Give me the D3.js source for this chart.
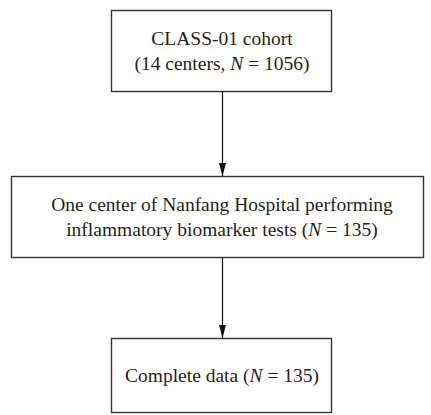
<!DOCTYPE html>
<html>
<head>
<meta charset="utf-8">
<script src="https://cdn.jsdelivr.net/npm/d3@7"></script>
<style>
  html, body { margin: 0; padding: 0; background: #fff; }
  svg { display: block; }
</style>
</head>
<body>
<div id="chart"></div>
<script>
var
  WIDTH = 431,
  HEIGHT = 415,
  FONT = "'Liberation Serif', 'DejaVu Serif', serif",
  FONT_SIZE = 19.5,
  LINE_HEIGHT = 25,
  STROKE = "#333";

// flow steps, top to bottom; each line is a list of [text, italic] pieces
var stepLines = [
  [
    [["CLASS-01 cohort", false]],
    [["(14 centers, ", false], ["N", true], [" = 1056)", false]]
  ],
  [
    [["One center of Nanfang Hospital performing", false]],
    [["inflammatory biomarker tests (", false], ["N", true], [" = 135)", false]]
  ],
  [
    [["Complete data (", false], ["N", true], [" = 135)", false]]
  ]
];
var stepIndex = [0, 1, 2];

// box edges in picture pixels
var boxLefts = [111.5, 11.5, 111.5];
var boxRights = [331.5, 423.5, 331.5];
var boxTops = [10.5, 176.5, 338.5];
var boxBottoms = [91.5, 257.5, 412.5];
var centerX = 222;

var svg = d3.select("#chart").append("svg")
  .attr("width", WIDTH)
  .attr("height", HEIGHT);

svg.append("defs").append("marker")
  .attr("id", "arrow")
  .attr("viewBox", "0 0 10 10")
  .attr("preserveAspectRatio", "none")
  .attr("refX", 10)
  .attr("refY", 5)
  .attr("markerWidth", 13)
  .attr("markerHeight", 7)
  .attr("markerUnits", "userSpaceOnUse")
  .attr("orient", "auto")
  .append("path")
  .attr("d", "M0,0 L10,5 L0,10 Z")
  .attr("fill", "#111");

var boxes = svg.selectAll("g.step")
  .data(stepIndex)
  .enter().append("g")
  .attr("class", "step");

boxes.append("rect")
  .attr("x", function(i){ return boxLefts[i]; })
  .attr("y", function(i){ return boxTops[i]; })
  .attr("width", function(i){ return boxRights[i] - boxLefts[i]; })
  .attr("height", function(i){ return boxBottoms[i] - boxTops[i]; })
  .attr("fill", "none")
  .attr("stroke", STROKE)
  .attr("stroke-width", 1.4);

boxes.each(function(i){
  var g = d3.select(this),
    lines = stepLines[i],
    mid = (boxTops[i] + boxBottoms[i]) / 2,
    first = mid - (lines.length - 1) * LINE_HEIGHT / 2;

  lines.forEach(function(pieces, k){
    var text = g.append("text")
      .attr("x", centerX)
      .attr("y", first + k * LINE_HEIGHT)
      .attr("dy", "0.35em")
      .attr("text-anchor", "middle")
      .attr("font-family", FONT)
      .attr("font-size", FONT_SIZE)
      .attr("fill", "#231f20");
    pieces.forEach(function(p){
      text.append("tspan")
        .attr("font-style", p[1] ? "italic" : "normal")
        .text(p[0]);
    });
  });
});

// arrows between consecutive boxes
svg.selectAll("line.arrow")
  .data(stepIndex.slice(1))
  .enter().append("line")
  .attr("class", "arrow")
  .attr("x1", centerX + 0.5)
  .attr("x2", centerX + 0.5)
  .attr("y1", function(i){ return boxBottoms[i - 1]; })
  .attr("y2", function(i){ return boxTops[i] - 0.5; })
  .attr("stroke", "#111")
  .attr("stroke-width", 1.2)
  .attr("marker-end", "url(#arrow)");
</script>
</body>
</html>
